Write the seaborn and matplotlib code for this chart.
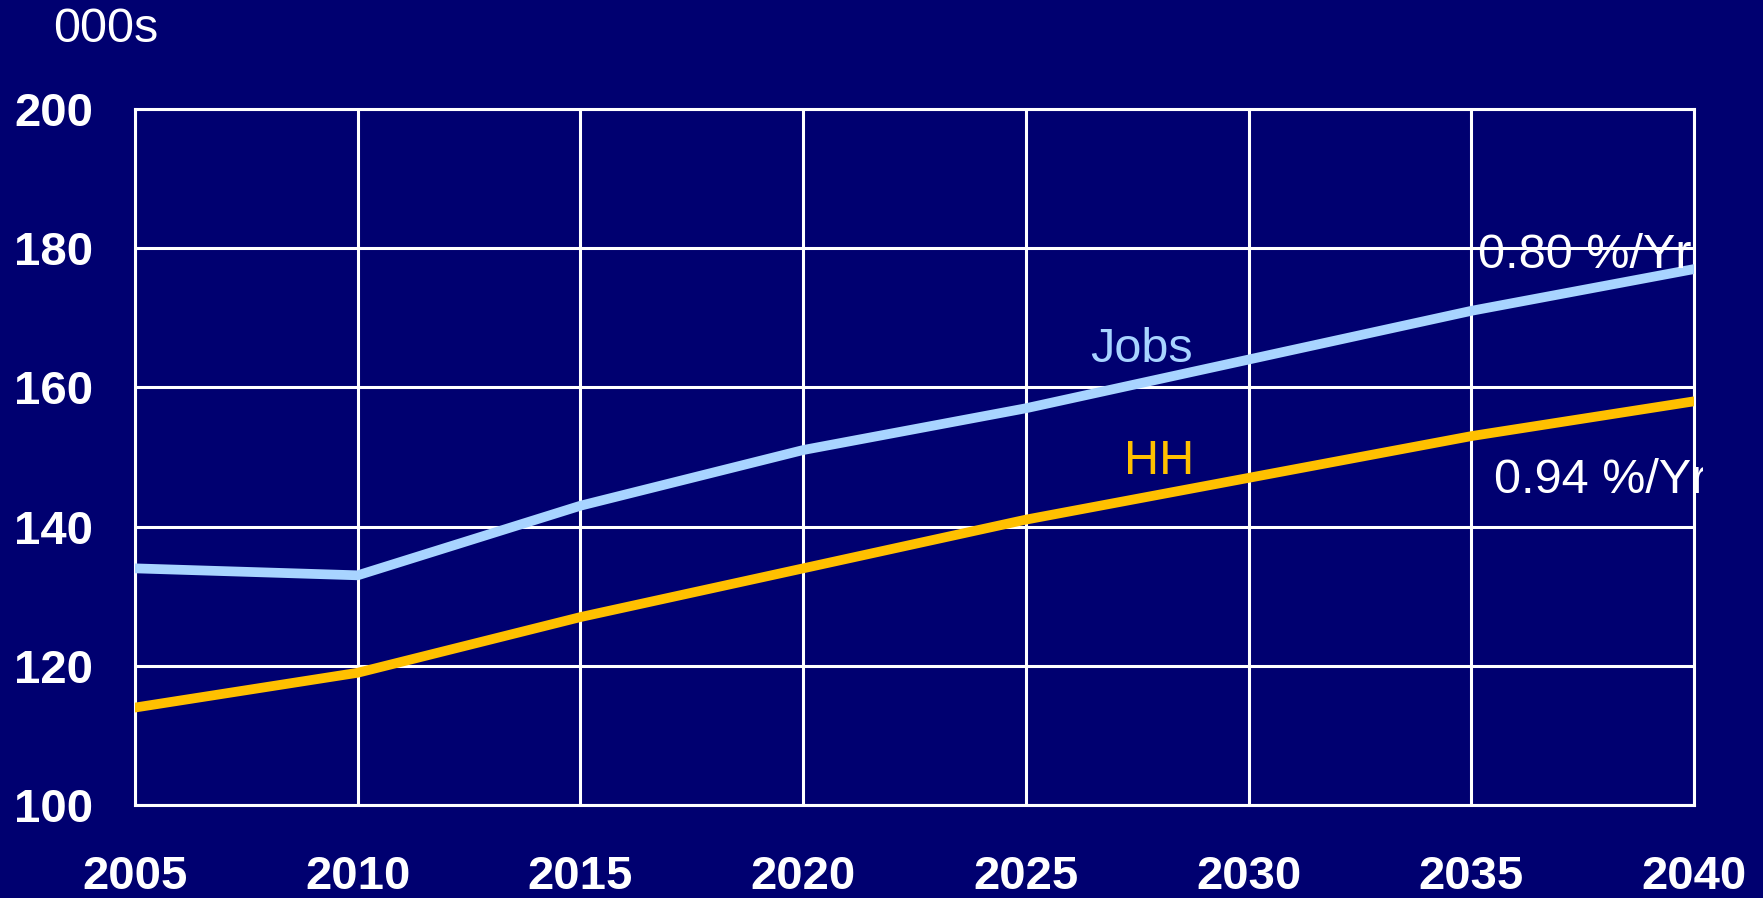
import pandas as pd
import matplotlib.pyplot as plt
import seaborn as sns
from matplotlib.transforms import Bbox, TransformedBbox

# Dados
anos = [2005, 2010, 2015, 2020, 2025, 2030, 2035, 2040]
jobs = [134, 133, 143, 151, 157, 164, 171, 177]
hh = [114, 119, 127, 134, 141, 147, 153, 158]

fundo = "#000070"
cor_jobs = "#A8D4FF"
cor_hh = "#FFC000"

df = pd.DataFrame({"ano": anos * 2,
                   "valor": jobs + hh,
                   "serie": ["Jobs"] * len(anos) + ["HH"] * len(anos)})

sns.set_style("white", {"axes.facecolor": fundo, "figure.facecolor": fundo})
plt.rcParams['font.family'] = ['Liberation Sans', 'DejaVu Sans']

fig = plt.figure(figsize=(17.63, 8.98), dpi=100)
ax = fig.add_axes([135 / 1763, 1 - 805 / 898, (1694 - 135) / 1763, (805 - 109) / 898])

sns.lineplot(data=df, x="ano", y="valor", hue="serie",
             palette={"Jobs": cor_jobs, "HH": cor_hh},
             linewidth=7, legend=False, ax=ax, zorder=3)

ax.set_xlim(2005, 2040)
ax.set_ylim(100, 200)
ax.set_xticks(anos)
ax.set_yticks(range(100, 201, 20))
ax.grid(True, color="white", linewidth=2.2, zorder=1)
ax.set_axisbelow(True)
for s in ax.spines.values():
    s.set_color("white")
    s.set_linewidth(2.2)
ax.tick_params(colors="white", length=11, width=2, direction="out", labelsize=34)
ax.tick_params(axis="x", pad=25)
ax.tick_params(axis="y", pad=19)
for lab in ax.get_xticklabels() + ax.get_yticklabels():
    lab.set_fontweight("bold")
ax.set_xlabel("")
ax.set_ylabel("")

fig.text(53 / 1763, 1 - 30 / 898, "000s", color="white", fontsize=35, va="center")

ax.text(2027.6, 165.4, "Jobs", color=cor_jobs, fontsize=35, ha="center", va="center")
ax.text(2028.0, 149.4, "HH", color=cor_hh, fontsize=35, ha="center", va="center")
ax.text(2035.15, 179.0, "0.80 %/Yr", color="white", fontsize=35, ha="left",
        va="center", clip_on=True, zorder=4)
t = ax.text(2035.5, 146.6, "0.94 %/Yr", color="white", fontsize=35, ha="left",
            va="center", zorder=4)
# caixa de texto um pouco mais larga que os eixos
t.set_clip_box(TransformedBbox(Bbox([[0, 0], [1.006, 1]]), ax.transAxes))
t.set_clip_on(True)

plt.savefig("out.png", dpi=100, facecolor=fundo)
